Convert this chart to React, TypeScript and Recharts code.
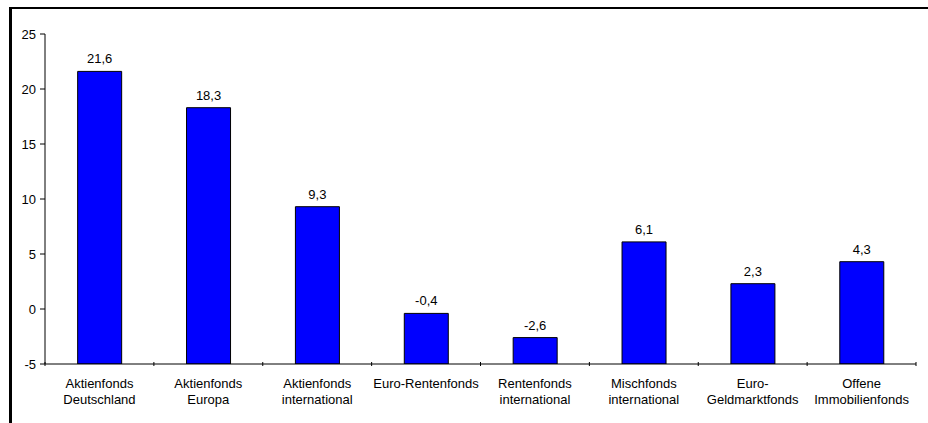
import { BarChart, Bar, XAxis, YAxis, LabelList } from 'recharts'

const categories = [
  'Aktienfonds\nDeutschland',
  'Aktienfonds\nEuropa',
  'Aktienfonds\ninternational',
  'Euro-Rentenfonds',
  'Rentenfonds\ninternational',
  'Mischfonds\ninternational',
  'Euro-\nGeldmarktfonds',
  'Offene\nImmobilienfonds',
]
const values = [21.6, 18.3, 9.3, -0.4, -2.6, 6.1, 2.3, 4.3]
const yTicks = [-5, 0, 5, 10, 15, 20, 25]
const AXIS_MIN = -5

const data = categories.map((name, i) => ({
  name,
  value: values[i],
  range: [AXIS_MIN, values[i]],
}))

const FONT = '"Liberation Sans", Arial, sans-serif'
const fmt = (v: number) => v.toFixed(1).replace('.', ',')

// eslint-disable-next-line @typescript-eslint/no-explicit-any
function CategoryTick(props: any) {
  const { x, y, payload, index } = props
  const half = payload?.offset ?? 54.4
  const lines = String(payload.value).split('\n')
  return (
    <g>
      <line x1={x - half} y1={y - 8} x2={x - half} y2={y - 4} stroke="#000" />
      {index === categories.length - 1 && (
        <line x1={x + half} y1={y - 8} x2={x + half} y2={y - 4} stroke="#000" />
      )}
      <text x={x} y={y + 18} textAnchor="middle" fontSize={13} fontFamily={FONT} fill="#000">
        {lines.map((l, i) => (
          <tspan key={i} x={x} dy={i === 0 ? 0 : 16}>
            {l}
          </tspan>
        ))}
      </text>
    </g>
  )
}

export default function App() {
  return (
    <div style={{ position: 'absolute', left: 0, top: 0, width: 928, height: 423, background: '#fff' }}>
      <div
        style={{
          position: 'absolute',
          left: 9,
          top: 7,
          width: 919,
          height: 416,
          borderLeft: '3px solid #000',
          borderTop: '2px solid #000',
          boxSizing: 'border-box',
        }}
      />
      <div style={{ position: 'absolute', left: 0, top: 0 }}>
        <BarChart
          width={928}
          height={423}
          data={data}
          margin={{ top: 34, right: 12, left: 0, bottom: 0 }}
          barCategoryGap="30%"
        >
          <XAxis
            dataKey="name"
            interval={0}
            height={59}
            tickLine={false}
            axisLine={{ stroke: '#000' }}
            tick={<CategoryTick />}
            tickMargin={0}
          />
          <YAxis
            width={45}
            domain={[-5, 25]}
            ticks={yTicks}
            interval={0}
            tickSize={5}
            tickMargin={4}
            axisLine={{ stroke: '#000' }}
            tickLine={{ stroke: '#000' }}
            tick={{ fontSize: 13, fontFamily: FONT, fill: '#000' }}
            allowDataOverflow
          />
          <Bar dataKey="range" fill="#0000ff" stroke="#000" strokeWidth={1} isAnimationActive={false}>
            <LabelList
              dataKey="value"
              position="top"
              offset={8}
              formatter={(v: number) => fmt(v)}
              style={{ fontSize: 13, fontFamily: FONT, fill: '#000' }}
            />
          </Bar>
        </BarChart>
      </div>
    </div>
  )
}
